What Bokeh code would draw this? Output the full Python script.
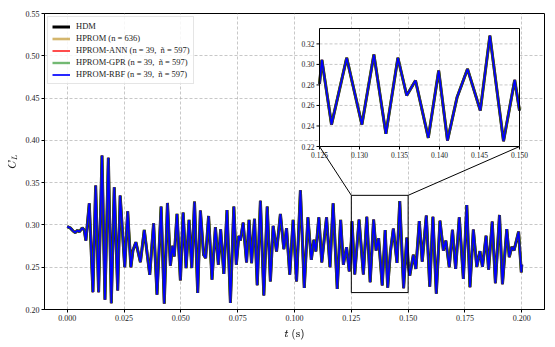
import math
from bokeh.plotting import figure
from bokeh.models import (Range1d, FixedTicker, NumeralTickFormatter, Legend, LegendItem,
                          ColumnDataSource)
from bokeh.embed import file_html
from bokeh.resources import INLINE

# ---- data ----
t_hdm = [0.0000, 0.0013, 0.0025, 0.0035, 0.0045, 0.0054, 0.0066, 0.0075, 0.0082, 0.0097,
         0.0113, 0.0125, 0.0138, 0.0153, 0.0166, 0.0181, 0.0194, 0.0207, 0.0222, 0.0233,
         0.0253, 0.0266, 0.0280, 0.0289, 0.0302, 0.0322, 0.0339, 0.0363, 0.0380, 0.0395,
         0.0413, 0.0427, 0.0441, 0.0454, 0.0463, 0.0471, 0.0483, 0.0498, 0.0510, 0.0523,
         0.0536, 0.0548, 0.0560, 0.0574, 0.0586, 0.0600, 0.0609, 0.0622, 0.0637, 0.0652,
         0.0665, 0.0675, 0.0689, 0.0703, 0.0718, 0.0733, 0.0744, 0.0755, 0.0762, 0.0774,
         0.0789, 0.0800, 0.0811, 0.0824, 0.0836, 0.0850, 0.0865, 0.0880, 0.0894, 0.0906,
         0.0921, 0.0938, 0.0953, 0.0965, 0.0979, 0.0994, 0.1009, 0.1026, 0.1043, 0.1059,
         0.1074, 0.1085, 0.1094, 0.1107, 0.1120, 0.1141, 0.1156, 0.1170, 0.1188, 0.1203,
         0.1215, 0.1229, 0.1241, 0.1250, 0.1253, 0.1265, 0.1284, 0.1303, 0.1318, 0.1333,
         0.1348, 0.1359, 0.1370, 0.1386, 0.1399, 0.1410, 0.1422, 0.1435, 0.1451, 0.1463,
         0.1480, 0.1494, 0.1500, 0.1507, 0.1523, 0.1534, 0.1549, 0.1562, 0.1580, 0.1595,
         0.1609, 0.1624, 0.1640, 0.1655, 0.1666, 0.1681, 0.1695, 0.1709, 0.1725, 0.1743,
         0.1758, 0.1772, 0.1787, 0.1802, 0.1816, 0.1827, 0.1843, 0.1854, 0.1870, 0.1884,
         0.1902, 0.1915, 0.1934, 0.1945, 0.1956, 0.1966, 0.1986, 0.1998, 0.2000]
cl_hdm = [0.2980, 0.2965, 0.2930, 0.2910, 0.2935, 0.2920, 0.2965, 0.2940, 0.2815, 0.3255,
          0.2205, 0.3466, 0.2205, 0.3820, 0.2115, 0.3793, 0.2075, 0.3446, 0.2225, 0.3347,
          0.2500, 0.3160, 0.2500, 0.2697, 0.2796, 0.2560, 0.2940, 0.2410, 0.3020, 0.2176,
          0.3216, 0.2070, 0.3260, 0.2518, 0.2753, 0.2627, 0.3130, 0.2345, 0.3145, 0.2490,
          0.3059, 0.2490, 0.3275, 0.2196, 0.3169, 0.2647, 0.2608, 0.3106, 0.2353, 0.2973,
          0.2529, 0.2949, 0.2420, 0.3176, 0.2078, 0.3216, 0.2529, 0.2870, 0.2816, 0.3027,
          0.2557, 0.3059, 0.2549, 0.3071, 0.2286, 0.3286, 0.2165, 0.3216, 0.2333, 0.2988,
          0.2686, 0.3129, 0.2714, 0.2961, 0.2412, 0.3059, 0.2333, 0.3410, 0.2255, 0.3090,
          0.2588, 0.2824, 0.2686, 0.3090, 0.2557, 0.3090, 0.2500, 0.3255, 0.2243, 0.3059,
          0.2529, 0.2737, 0.2451, 0.2810, 0.3044, 0.2414, 0.3064, 0.2414, 0.3096, 0.2323,
          0.3064, 0.2697, 0.2843, 0.2284, 0.2940, 0.2258, 0.2681, 0.2956, 0.2551, 0.3281,
          0.2252, 0.2849, 0.2550, 0.2400, 0.2647, 0.2480, 0.3045, 0.2565, 0.3110, 0.2270,
          0.3095, 0.2187, 0.3050, 0.2697, 0.2815, 0.2500, 0.2941, 0.2480, 0.3090, 0.2362,
          0.3236, 0.2264, 0.2945, 0.2504, 0.2690, 0.2504, 0.2872, 0.2470, 0.3039, 0.2310,
          0.3118, 0.2300, 0.2950, 0.2620, 0.2740, 0.2700, 0.2920, 0.2440, 0.2529]
# reduced models follow the HDM closely
cl_hprom = cl_hdm
cl_ann = cl_hdm
cl_gpr = cl_hdm
cl_rbf = cl_hdm

x_ticks = [0.000, 0.025, 0.050, 0.075, 0.100, 0.125, 0.150, 0.175, 0.200]
y_ticks = [0.20, 0.25, 0.30, 0.35, 0.40, 0.45, 0.50, 0.55]
inset_x_ticks = [0.125, 0.130, 0.135, 0.140, 0.145, 0.150]
inset_y_ticks = [0.22, 0.24, 0.26, 0.28, 0.30, 0.32]
INSET_X = (0.125, 0.150)
INSET_Y = (0.22, 0.335)

labels = ["HDM", "HPROM (n = 636)", "HPROM-ANN (n = 39,  ñ = 597)",
          "HPROM-GPR (n = 39,  ñ = 597)", "HPROM-RBF (n = 39,  ñ = 597)"]
styles = [("black", 1.0, 3.0), ("#B8860B", 0.6, 2.6), ("red", 1.0, 1.4),
          ("green", 0.55, 2.4), ("blue", 1.0, 1.7)]
cols = ["hdm", "hprom", "ann", "gpr", "rbf"]

FONT = "Liberation Serif"

# ---- layout constants (pixels) ----
MAIN_W, MAIN_H = 552, 345
MB_L, MB_R, MB_T, MB_B = 44, 8, 13, 36
X_RANGE = (-0.01, 0.21)
Y_RANGE = (0.20, 0.55)
IN_FX, IN_FY, IN_FW, IN_FH = 275, 15, 200, 118  # inset frame inside main frame

p = figure(width=MAIN_W, height=MAIN_H, output_backend="svg", toolbar_location=None,
           x_range=Range1d(*X_RANGE), y_range=Range1d(*Y_RANGE),
           min_border_left=MB_L, min_border_right=MB_R, min_border_top=MB_T,
           min_border_bottom=MB_B)
for ax in (p.xaxis[0], p.yaxis[0]):
    ax.major_label_text_font = FONT
    ax.major_label_text_font_size = "8px"
    ax.major_label_text_color = "#222222"
    ax.axis_line_color = "black"
    ax.major_tick_line_color = "black"
    ax.major_tick_in = 0
    ax.major_tick_out = 3
    ax.minor_tick_line_color = None
    ax.major_label_standoff = 2
    ax.axis_label_text_font_size = "9px"
    ax.axis_label_text_color = "#222222"
p.xaxis.axis_label_standoff = 5
p.yaxis.axis_label_standoff = 5
p.grid.grid_line_color = "#b0b0b0"
p.grid.grid_line_dash = "3 2"
p.grid.grid_line_width = 0.7
p.outline_line_color = "black"
p.outline_line_alpha = 1
p.xaxis.ticker = FixedTicker(ticks=x_ticks)
p.yaxis.ticker = FixedTicker(ticks=y_ticks)
p.xaxis.formatter = NumeralTickFormatter(format="0.000")
p.yaxis.formatter = NumeralTickFormatter(format="0.00")
p.xaxis.axis_label = r"$$t\ (\mathrm{s})$$"
p.yaxis.axis_label = r"$$C_L$$"

src = ColumnDataSource(dict(t=t_hdm, hdm=cl_hdm, hprom=cl_hprom, ann=cl_ann,
                            gpr=cl_gpr, rbf=cl_rbf))

items = []
for label, (color, alpha, lw), col in zip(labels, styles, cols):
    r = p.line("t", col, source=src, line_color=color, line_alpha=alpha, line_width=lw)
    items.append(LegendItem(label=label, renderers=[r]))

# zoom rectangle and connectors to the inset
fw = MAIN_W - MB_L - MB_R
fh = MAIN_H - MB_T - MB_B
def px2x(px):
    return X_RANGE[0] + (px / fw) * (X_RANGE[1] - X_RANGE[0])
def px2y(py):
    return Y_RANGE[1] - (py / fh) * (Y_RANGE[1] - Y_RANGE[0])
tgt_x = (px2x(IN_FX), px2x(IN_FX + IN_FW))
tgt_y = (px2y(IN_FY + IN_FH), px2y(IN_FY))

p.quad(left=INSET_X[0], right=INSET_X[1], bottom=INSET_Y[0], top=INSET_Y[1],
       fill_alpha=0, line_color="black", line_width=1)
p.segment(x0=[INSET_X[0], INSET_X[1]], y0=[INSET_Y[1], INSET_Y[1]],
          x1=[tgt_x[0], tgt_x[1]], y1=[tgt_y[0], tgt_y[0]],
          line_color="black", line_width=1)

# ---- inset (drawn through a sub-coordinate mapping) ----
keep = [i for i, t in enumerate(t_hdm) if INSET_X[0] <= t <= INSET_X[1]]
isrc = ColumnDataSource({k: [v[i] for i in keep] for k, v in src.data.items()})

sub = p.subplot(x_source=Range1d(*INSET_X), y_source=Range1d(*INSET_Y),
                x_target=Range1d(*tgt_x), y_target=Range1d(*tgt_y))
sub.quad(left=INSET_X[0], right=INSET_X[1], bottom=INSET_Y[0], top=INSET_Y[1],
         fill_color="white", line_color=None)
sub.segment(x0=inset_x_ticks, x1=inset_x_ticks, y0=[INSET_Y[0]] * len(inset_x_ticks),
            y1=[INSET_Y[1]] * len(inset_x_ticks), line_color="#b0b0b0", line_dash="3 2",
            line_width=0.7)
sub.segment(x0=[INSET_X[0]] * len(inset_y_ticks), x1=[INSET_X[1]] * len(inset_y_ticks),
            y0=inset_y_ticks, y1=inset_y_ticks, line_color="#b0b0b0", line_dash="3 2",
            line_width=0.7)
for (color, alpha, lw), col in zip(styles, cols):
    sub.line(x="t", y=col, source=isrc, line_color=color, line_alpha=alpha, line_width=lw)
sub.quad(left=INSET_X[0], right=INSET_X[1], bottom=INSET_Y[0], top=INSET_Y[1],
         fill_alpha=0, line_color="black", line_width=1)
sub.ray(x=inset_x_ticks, y=[INSET_Y[0]] * len(inset_x_ticks), length=3,
        length_units="screen", angle=-math.pi / 2, line_color="black", line_width=1)
sub.ray(x=[INSET_X[0]] * len(inset_y_ticks), y=inset_y_ticks, length=3,
        length_units="screen", angle=math.pi, line_color="black", line_width=1)
sub.text(x=inset_x_ticks, y=[INSET_Y[0]] * len(inset_x_ticks),
         text=[f"{v:.3f}" for v in inset_x_ticks], y_offset=5, text_align="center",
         text_baseline="top", text_font=FONT, text_font_size="7.5px", text_color="#222222")
sub.text(x=[INSET_X[0]] * len(inset_y_ticks), y=inset_y_ticks,
         text=[f"{v:.2f}" for v in inset_y_ticks], x_offset=-5, text_align="right",
         text_baseline="middle", text_font=FONT, text_font_size="7.5px",
         text_color="#222222")

legend = Legend(items=items, location="top_left")
legend.label_text_font = FONT
legend.label_text_font_size = "8.5px"
legend.label_text_color = "#222222"
legend.glyph_width = 18
legend.glyph_height = 9
legend.label_height = 9
legend.label_standoff = 6
legend.spacing = 2
legend.padding = 4
legend.margin = 3
legend.border_line_color = "#cccccc"
legend.background_fill_alpha = 0.85
p.add_layout(legend)

open("out.html", "w").write(file_html(p, INLINE))
